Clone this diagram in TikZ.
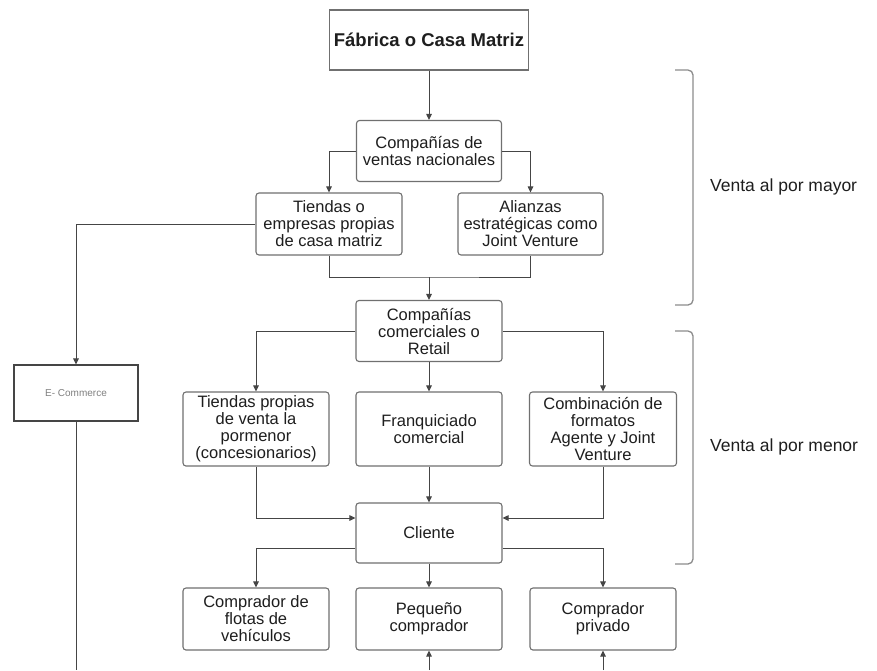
\documentclass[tikz,border=0pt]{standalone}
\usepackage{fontspec}
\setmainfont{Liberation Sans}
\usetikzlibrary{arrows.meta,calc}
\definecolor{txt}{HTML}{1E1E1E}
\definecolor{boxline}{HTML}{707070}
\definecolor{conn}{HTML}{454545}
\definecolor{brk}{HTML}{8C8C8C}
\tikzset{
  box/.style={draw=boxline, line width=1.1pt, rounded corners=3pt, fill=white, text=txt,
    align=center, inner sep=1pt, font=\fontsize{16.5}{17}\selectfont},
  sqbox/.style={box, rounded corners=0pt},
  conline/.style={draw=conn, line width=1pt},
  arr/.style={conline, -{Triangle[length=6pt,width=5.5pt]}},
  bracket/.style={draw=brk, line width=1.3pt, rounded corners=5pt},
  lbl/.style={text=txt, anchor=west, font=\fontsize{17.5}{19}\selectfont, inner sep=0pt}
}
\begin{document}
\begin{tikzpicture}[x=1pt,y=-1pt]
\useasboundingbox (0,0) rectangle (877,670);
\fill[white] (0,0) rectangle (877,670);

% nodes
\node[sqbox, minimum width=199pt, minimum height=60pt, font=\bfseries\fontsize{18.5}{20}\selectfont] (fab) at (429,40) {Fábrica o Casa Matriz};
\node[box, minimum width=145pt, minimum height=61pt] (cvn) at (429,151) {Compañías de\\ventas nacionales};
\node[box, minimum width=146pt, minimum height=62pt] (tep) at (329,224) {Tiendas o\\empresas propias\\de casa matriz};
\node[box, minimum width=145pt, minimum height=62pt] (ali) at (530.5,224) {Alianzas\\estratégicas como\\Joint Venture};
\node[box, minimum width=146pt, minimum height=61pt] (ccr) at (429,331) {Compañías\\comerciales o\\Retail};
\node[box, minimum width=146pt, minimum height=74pt] (tpv) at (256,429) {Tiendas propias\\de venta la\\pormenor\\(concesionarios)};
\node[box, minimum width=146pt, minimum height=74pt] (fra) at (429,429) {Franquiciado\\comercial};
\node[box, minimum width=147pt, minimum height=74pt] (com) at (603,429) {Combinación de\\formatos\\Agente y Joint\\Venture};
\node[box, minimum width=146pt, minimum height=60pt] (cli) at (429,533) {Cliente};
\node[box, minimum width=146pt, minimum height=62pt] (cfv) at (256,619) {Comprador de\\flotas de\\vehículos};
\node[box, minimum width=146pt, minimum height=62pt] (peq) at (429,619) {Pequeño\\comprador};
\node[box, minimum width=146pt, minimum height=62pt] (cpr) at (603,619) {Comprador\\privado};
\node[sqbox, draw=conn, minimum width=124pt, minimum height=56pt, text=gray, font=\fontsize{10}{11}\selectfont] (eco) at (76,393) {E- Commerce};

% helper coordinates
\coordinate (j1) at (429,277);
\coordinate (bEco) at (76,670);
\coordinate (bPeq) at (429,670);
\coordinate (bCpr) at (603,670);

% connectors
\draw[arr] (fab.south) -- (cvn.north);
\draw[arr] (cvn.west) -| (tep.north);
\draw[arr] (cvn.east) -| (ali.north);
\draw[conline] (tep.south) |- (j1) -| (ali.south);
\draw[arr] (j1) -- (ccr.north);
\draw[arr] (ccr.west) -| (tpv.north);
\draw[arr] (ccr.east) -| (com.north);
\draw[arr] (ccr.south) -- (fra.north);
\draw[arr] (tpv.south) |- ([yshift=15pt]cli.west);
\draw[arr] (com.south) |- ([yshift=15pt]cli.east);
\draw[arr] (fra.south) -- (cli.north);
\draw[arr] ([yshift=-15pt]cli.west) -| (cfv.north);
\draw[arr] ([yshift=-15pt]cli.east) -| (cpr.north);
\draw[arr] (cli.south) -- (peq.north);
\draw[arr] (tep.west) -| (eco.north);
\draw[conline] (eco.south) -- (bEco);
\draw[arr] (bPeq) -- (peq.south);
\draw[arr] (bCpr) -- (cpr.south);

% brackets
\draw[bracket] (675,70) -- (693,70) -- (693,305) -- (675,305);
\draw[bracket] (675,331) -- (693,331) -- (693,564) -- (675,564);
\node[lbl] (may) at (710,187) {Venta al por mayor};
\node[lbl] (men) at (710,447) {Venta al por menor};
\end{tikzpicture}
\end{document}
